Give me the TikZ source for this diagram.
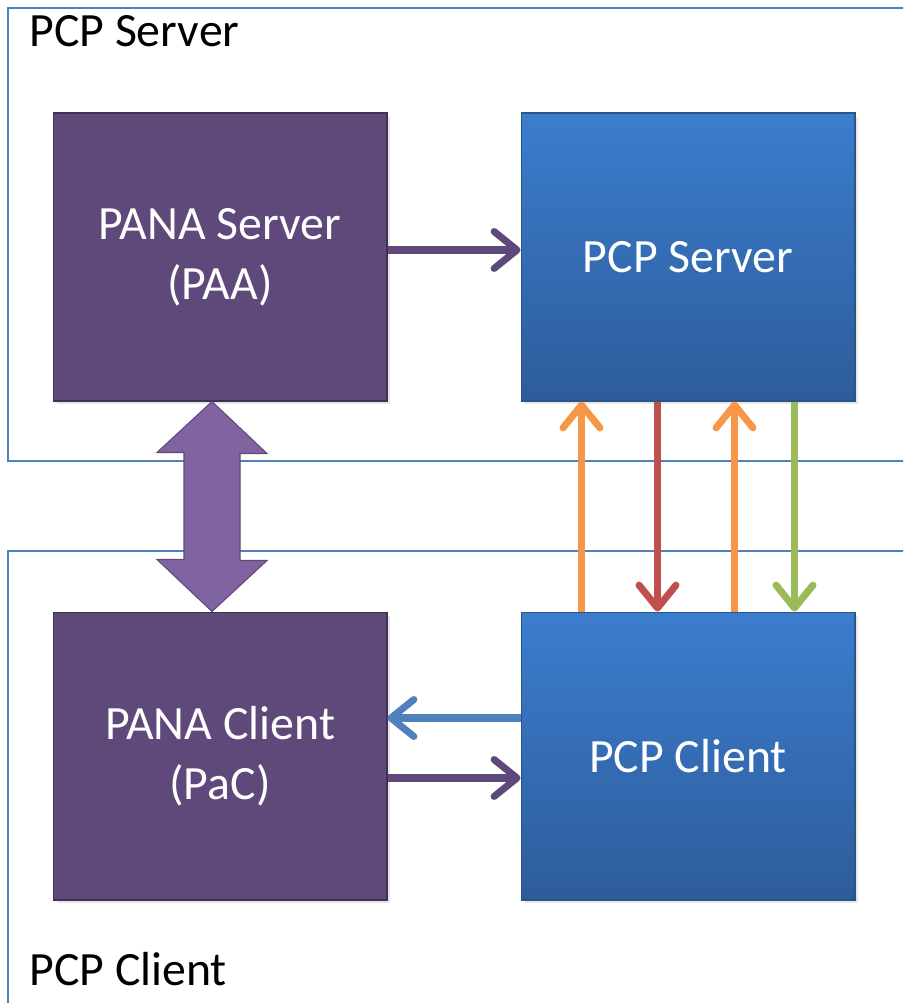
\documentclass[tikz,border=0pt]{standalone}
\usepackage{fontspec}
\setmainfont{Carlito}
\usetikzlibrary{arrows.meta,calc,shadows}
\definecolor{frameBlue}{HTML}{4F81BD}
\definecolor{panaFill}{HTML}{5F497A}
\definecolor{panaLine}{HTML}{3F3151}
\definecolor{linkFill}{HTML}{8064A2}
\definecolor{pcpTop}{HTML}{3B7DCD}
\definecolor{pcpBottom}{HTML}{2D5C9B}
\definecolor{pcpLine}{HTML}{2A5585}
\definecolor{msgOrange}{HTML}{F79646}
\definecolor{msgRed}{HTML}{C0504D}
\definecolor{msgGreen}{HTML}{9BBB59}
\begin{document}
\begin{tikzpicture}[x=0.02cm,y=-0.02cm]
\tikzset{
    pcpFrame/.style={draw=frameBlue,line width=0.9pt},
    pcpLabel/.style={anchor=base west,font=\fontsize{27.2}{34}\selectfont,inner sep=0pt},
    panaBox/.style={rectangle,draw=panaLine,line width=0.6pt,fill=panaFill,minimum width=6.68cm,minimum height=5.76cm,align=center,text=white,font=\fontsize{27.2}{34}\selectfont,drop shadow={opacity=0.2,shadow xshift=2pt,shadow yshift=-2pt}},
    pcpBox/.style={rectangle,draw=pcpLine,line width=0.6pt,top color=pcpTop,bottom color=pcpBottom,minimum width=6.68cm,minimum height=5.76cm,align=center,text=white,font=\fontsize{27.2}{34}\selectfont,drop shadow={opacity=0.2,shadow xshift=2pt,shadow yshift=-2pt}},
    msgArrow/.style={line width=4pt,-{Straight Barb[length=13pt,width=21pt,round]}},
}
\useasboundingbox (0,0) rectangle (903,1003);
\clip (0,0) rectangle (903,1003);

% frames
\draw[pcpFrame] (8,8) rectangle (920,461);
\draw[pcpFrame] (8,551) rectangle (920,1020);
\node[pcpLabel] (srvLabel) at (29,47) {PCP Server};
\node[pcpLabel] (cliLabel) at (29,985) {PCP Client};

% boxes
\node[panaBox] (paa) at (220,257) {PANA Server\\(PAA)};
\node[pcpBox] (pcps) at (688,257) {PCP Server};
\node[panaBox] (pac) at (220,756) {PANA Client\\(PaC)};
\node[pcpBox] (pcpc) at (688,756) {PCP Client};

% PANA link
\coordinate (linkTop) at ($(paa.south)+(-8,0)$);
\coordinate (linkBot) at ($(pac.north)+(-8,0)$);
\draw[draw=panaFill,fill=linkFill,line width=0.6pt] (linkTop) -- ++(55,52) -- ++(-27,0) -- ++(0,107) -- ++(27,0)
    -- (linkBot) -- ++(-55,-52) -- ++(27,0) -- ++(0,-107) -- ++(-27,0) -- cycle;

% messages
\draw[msgArrow,panaFill] ($(paa.east)+(0,-7)$) -- ($(pcps.west)+(0,-7)$);
\draw[msgArrow,frameBlue] ($(pcpc.west)+(0,-38)$) -- ($(pac.east)+(0,-38)$);
\draw[msgArrow,panaFill] ($(pac.east)+(0,22)$) -- ($(pcpc.west)+(0,22)$);
\draw[msgArrow,msgOrange] ($(pcpc.north west)+(61,0)$) -- ($(pcps.south west)+(61,0)$);
\draw[msgArrow,msgRed] ($(pcps.south west)+(137,0)$) -- ($(pcpc.north west)+(137,0)$);
\draw[msgArrow,msgOrange] ($(pcpc.north west)+(214,0)$) -- ($(pcps.south west)+(214,0)$);
\draw[msgArrow,msgGreen] ($(pcps.south west)+(274,0)$) -- ($(pcpc.north west)+(274,0)$);
\end{tikzpicture}
\end{document}
